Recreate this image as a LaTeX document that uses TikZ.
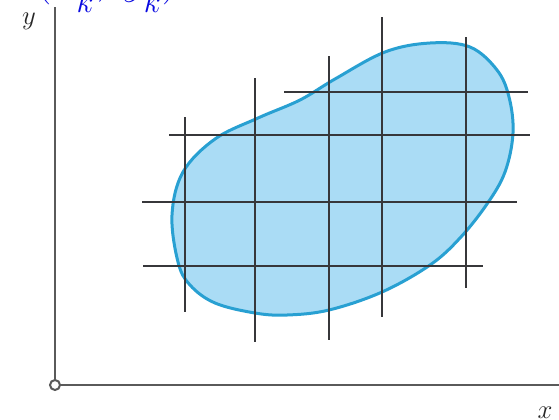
\documentclass[tikz,border=0pt]{standalone}
\definecolor{blobfill}{RGB}{170,220,245}
\definecolor{blobline}{RGB}{40,160,210}
\definecolor{gridline}{RGB}{55,55,58}
\definecolor{axisline}{RGB}{90,90,90}
\definecolor{labblue}{RGB}{10,10,225}
\newcommand{\lowsub}[1]{_{\lower.3em\hbox{$\scriptstyle #1$}}}
\tikzset{
  gridrule/.style={draw=gridline, line width=2.8bp},
  axisrule/.style={draw=axisline, line width=2.4bp},
  axislabel/.style={text=black!85, font=\fontsize{24}{28}\selectfont, inner sep=0pt},
}
\begin{document}
\begin{tikzpicture}[x=1bp,y=-1bp]
\useasboundingbox (0,0) rectangle (559,419);
\fill[white] (0,0) rectangle (559,419);
% blob
\path[fill=blobfill, draw=blobline, line width=3bp]
  plot[smooth cycle, tension=0.6] coordinates {
  (430,43) (470,47) (497,70) (509,97) (513,133) (505,172) (487,204)
  (460,238) (430,265) (382,292) (329,310) (287,315) (255,313) (215,303)
  (190,285) (178,262) (172,215) (183,172) (215,139) (258,118) (300,100) (335,79) (385,52)};
% grid
\draw[gridrule] (185,117) -- (185,312);
\draw[gridrule] (255,78) -- (255,342);
\draw[gridrule] (329,56) -- (329,340);
\draw[gridrule] (382,17) -- (382,317);
\draw[gridrule] (466,37) -- (466,288);
\draw[gridrule] (284,92) -- (528,92);
\draw[gridrule] (169,135) -- (530,135);
\draw[gridrule] (142,202) -- (517,202);
\draw[gridrule] (143,266) -- (483,266);
% axes
\coordinate (ytop) at (55,7);
\coordinate (xend) at (559,385);
\node[circle, draw=axisline, fill=white, line width=2bp, minimum size=10bp, inner sep=0pt] (o) at (55,385) {};
\draw[axisrule] (o.north) -- (ytop);
\draw[axisrule] (o.east) -- (xend);
\node[axislabel, scale=1.08, transform shape] (ylab) at (29,21) {$y$};
\node[axislabel, scale=1.08, transform shape] (xlab) at (545,413) {$x$};
% clipped top label
\node[text=labblue, font=\fontsize{24}{28}\selectfont, scale=1.83, transform shape, anchor=base west, inner sep=0pt] (pt) at (35,-7) {$(x\lowsub{k},\, y\lowsub{k})$};
\end{tikzpicture}
\end{document}
